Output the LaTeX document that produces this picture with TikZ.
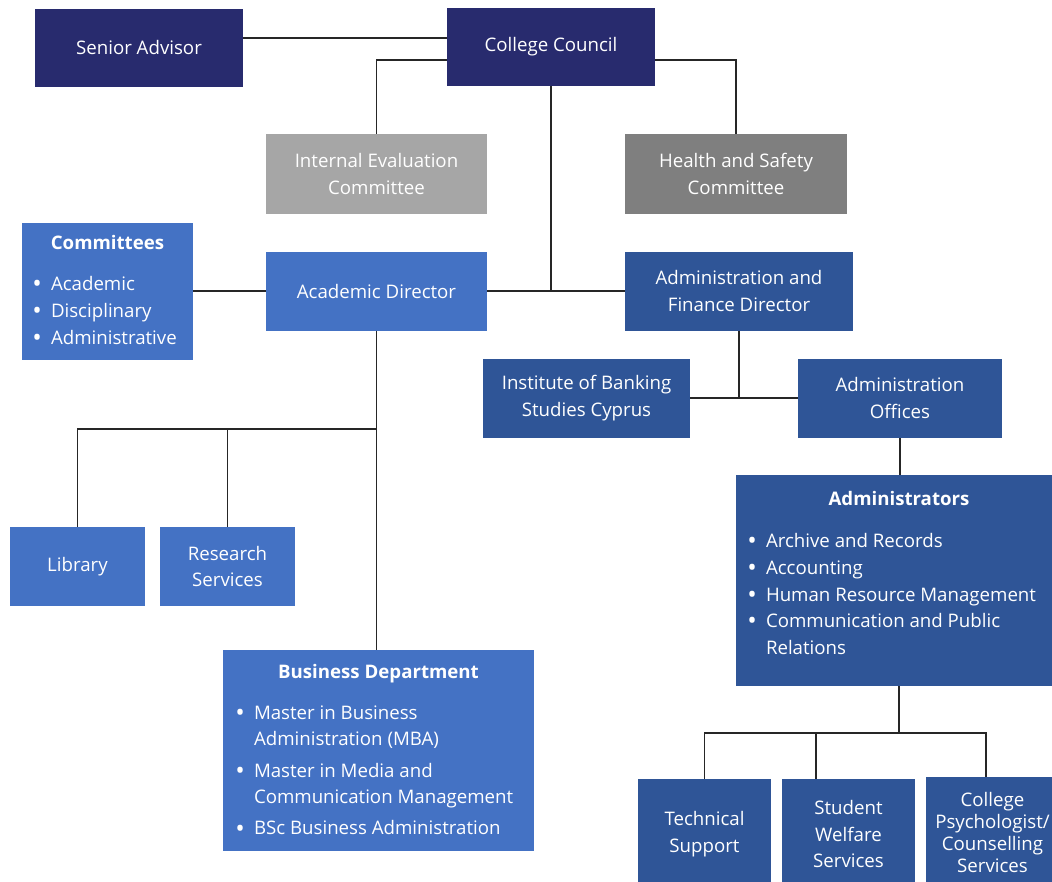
\documentclass[tikz,border=0pt]{standalone}
\usepackage{fontspec}
\setmainfont{Open Sans}
\definecolor{navy}{HTML}{282B6E}
\definecolor{lblue}{HTML}{4472C4}
\definecolor{mblue}{HTML}{2F5597}
\definecolor{lgray}{HTML}{A6A6A6}
\definecolor{dgray}{HTML}{7F7F7F}
\newcommand\bul{\makebox[10.5pt][l]{\hspace*{-3.5pt}\raisebox{-1.6pt}{\fontsize{19}{19}\selectfont\textbullet}}}
\newcommand\ind{\hspace*{10.5pt}}
\tikzset{
  box/.style={draw=none, fill=#1, text=white, inner sep=0pt, align=center,
    font=\fontsize{14}{20}\selectfont},
  sz/.style 2 args={minimum width=#1*0.75pt, minimum height=#2*0.75pt},
  conn/.style={draw=black!85, line width=1pt}
}
\begin{document}
\begin{tikzpicture}[x=0.75pt,y=-0.75pt]
\fill[white] (0,0) rectangle (1052,881);
\useasboundingbox (0,0) rectangle (1052,881);
% boxes
\node[box=navy, sz={208}{78}] (sa) at (139,48) {Senior Advisor};
\node[box=navy, sz={208}{78}] (cc) at (551,47) {College Council};
\node[box=lgray, sz={221}{80}] (iec) at (376.5,174) {Internal Evaluation\\Committee};
\node[box=dgray, sz={222}{80}] (hsc) at (736,174) {Health and Safety\\Committee};
\node[box=lblue, sz={171}{137}] (com) at (107.5,291)
  {\parbox{105.75pt}{\centering\textbf{Committees}\par\vspace{10.75pt}\raggedright
   \bul Academic\\\bul Disciplinary\\\bul Administrative}};
\node[box=lblue, sz={221}{79}] (ad) at (376.5,291) {Academic Director};
\node[box=mblue, sz={228}{79}] (afd) at (739,291) {Administration and\\Finance Director};
\node[box=mblue, sz={207}{79}] (ibs) at (586.5,398) {Institute of Banking\\Studies Cyprus};
\node[box=mblue, sz={204}{79}] (ao) at (900,398) {Administration\\Offices};
\node[box=mblue, sz={326}{211}] (adm) at (899,580.5)
  {\parbox{220.5pt}{\centering\textbf{Administrators}\par\vspace{11.5pt}\raggedright
   \bul Archive and Records\\\bul Accounting\\\bul Human Resource Management\\
   \bul Communication and Public\\\ind Relations\par\vspace*{11pt}}};
\node[box=lblue, sz={135}{79}] (lib) at (77.5,566.5) {Library};
\node[box=lblue, sz={135}{79}] (rs) at (227.5,566.5) {Research\\Services};
\node[box=lblue, sz={311}{201}] (bd) at (378.5,750.5)
  {\parbox{207.75pt}{\centering\textbf{Business Department}\par\vspace{10.75pt}\raggedright
   \bul Master in Business\\\ind Administration (MBA)\par\vspace{3.4pt}
   \bul Master in Media and\\\ind Communication Management\par\vspace{3.4pt}
   \bul BSc Business Administration}};
\node[box=mblue, sz={133}{110}] (ts) at (704.5,834) {Technical\\Support};
\node[box=mblue, sz={133}{110}] (sws) at (848.5,834) {Student\\Welfare\\Services};
\node[box=mblue, sz={133}{110}, font=\fontsize{14}{16.5}\selectfont] (cp) at (992.5,832)
  {College\\Psychologist/\\Counselling\\Services};
% connectors
\draw[conn] (sa.east |- 0,38) -- (cc.west |- 0,38);
\draw[conn] (cc.west |- 0,60) -| (iec.north);
\draw[conn] (cc.east |- 0,60) -| (hsc.north);
\draw[conn] (cc.south) -- (cc.south |- ad.east);
\draw[conn] (ad.east) -- (afd.west);
\draw[conn] (com.east) -- (ad.west);
\draw[conn] (ad.south) -- (ad.south |- bd.north);
\coordinate (j1) at (ad.south |- 0,429);
\draw[conn] (j1) -| (lib.north);
\draw[conn] (j1) -| (rs.north);
\draw[conn] (afd.south) -- (afd.south |- ibs.east);
\draw[conn] (ibs.east) -- (ao.west);
\draw[conn] (ao.south) -- (ao.south |- adm.north);
\coordinate (j2) at (adm.south |- 0,733);
\draw[conn] (adm.south) -- (j2);
\draw[conn] (j2) -| (ts.north);
\draw[conn] (j2) -| (sws.north -| 816,0);
\draw[conn] (j2) -| (cp.north -| 986,0);
\end{tikzpicture}
\end{document}
